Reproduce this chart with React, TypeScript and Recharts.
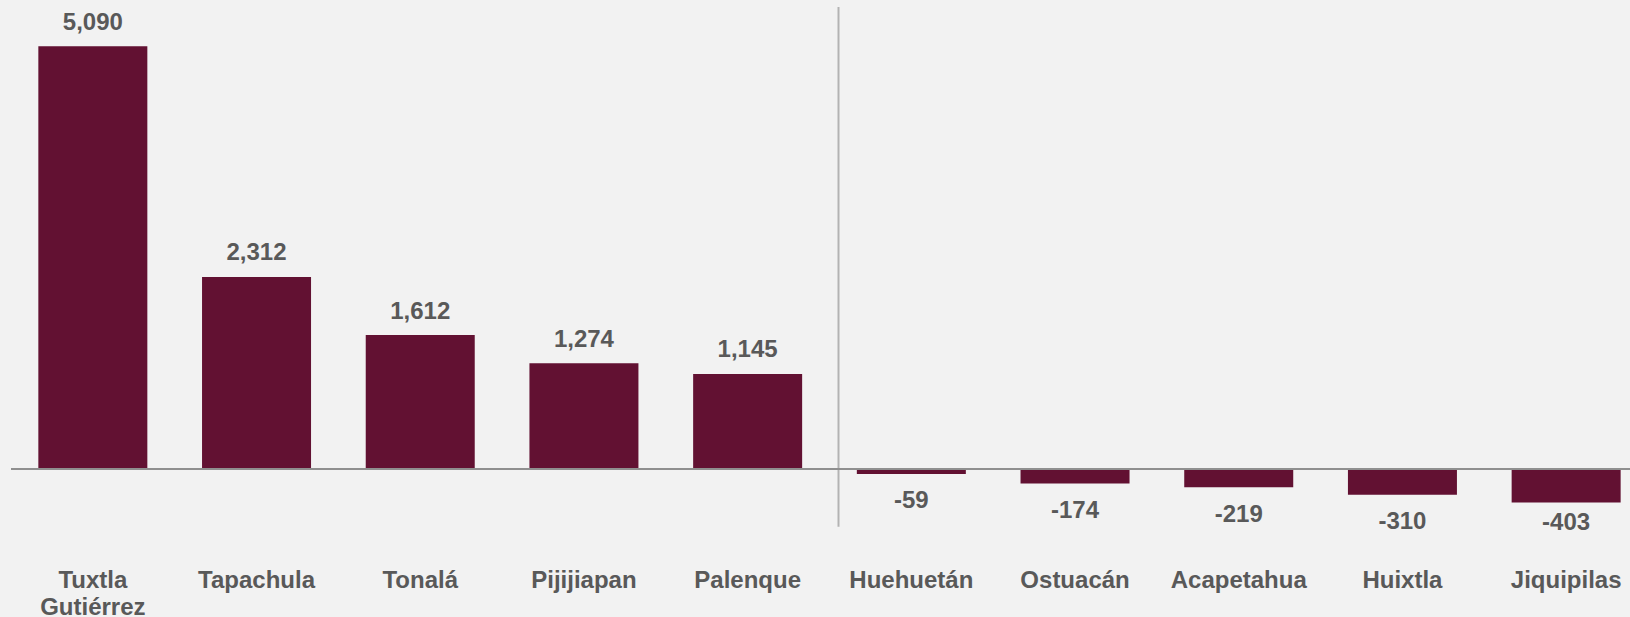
import { BarChart, Bar, XAxis, YAxis, ReferenceLine, LabelList } from 'recharts'

const municipios = [
  'Tuxtla Gutiérrez',
  'Tapachula',
  'Tonalá',
  'Pijijiapan',
  'Palenque',
  'Huehuetán',
  'Ostuacán',
  'Acapetahua',
  'Huixtla',
  'Jiquipilas',
]
const saldo = [5090, 2312, 1612, 1274, 1145, -59, -174, -219, -310, -403]
const yDomain: [number, number] = [-800, 5600]
// separates gains from losses
const dividerFrom = 5563
const dividerTo = -695

const data = municipios.map((name, i) => ({ name, value: saldo[i] }))

const FONT = '"Liberation Sans", Arial, sans-serif'
const TEXT = '#595959'
// lowest baseline a value label may sit on
const LABEL_FLOOR = 530

function CategoryTick({ x, y, payload }: any) {
  const words = String(payload.value).split(' ')
  const lines = words.length > 1 && payload.value.length > 12 ? words : [payload.value]
  return (
    <text x={x} y={y} textAnchor="middle" fill={TEXT} fontFamily={FONT} fontWeight={700} fontSize={24}>
      {lines.map((l: string, i: number) => (
        <tspan key={i} x={x} dy={i === 0 ? 53 : 27}>
          {l}
        </tspan>
      ))}
    </text>
  )
}

function ValueLabel({ x, y, width, height, value }: any) {
  const top = Math.min(y, y + height)
  const bottom = Math.max(y, y + height)
  const ty = value >= 0 ? top - 16.5 : Math.min(bottom + 34.5, LABEL_FLOOR)
  return (
    <text x={x + width / 2} y={ty} textAnchor="middle" fill={TEXT} fontFamily={FONT} fontWeight={700} fontSize={24}>
      {Number(value).toLocaleString('en-US')}
    </text>
  )
}

function Divider({ x1, y1, x2, y2 }: any) {
  return <line x1={x1 + 9} y1={y1} x2={x2 + 9} y2={y2} stroke="#b3b3b3" strokeWidth={2} />
}

export default function App() {
  return (
    <div
      style={{
        position: 'fixed',
        left: 0,
        top: 0,
        width: 1630,
        height: 617,
        overflow: 'hidden',
        background: '#f2f2f2',
      }}
    >
      <BarChart
        width={1648}
        height={617}
        data={data}
        margin={{ top: 3.92, right: 0, bottom: 21.56, left: 11 }}
        barCategoryGap="16.7%"
      >
        <XAxis
          dataKey="name"
          axisLine={false}
          tickLine={false}
          tickSize={0}
          tickMargin={0}
          height={60}
          interval={0}
          tick={<CategoryTick />}
        />
        <YAxis hide domain={yDomain} allowDataOverflow />
        <ReferenceLine
          segment={[
            { x: 'Huehuetán', y: dividerFrom },
            { x: 'Huehuetán', y: dividerTo },
          ]}
          position="start"
          ifOverflow="visible"
          shape={<Divider />}
        />
        <Bar dataKey="value" fill="#621132" isAnimationActive={false}>
          <LabelList dataKey="value" content={<ValueLabel />} />
        </Bar>
        <ReferenceLine y={0} stroke="#8f8f8f" strokeWidth={2} />
      </BarChart>
    </div>
  )
}
